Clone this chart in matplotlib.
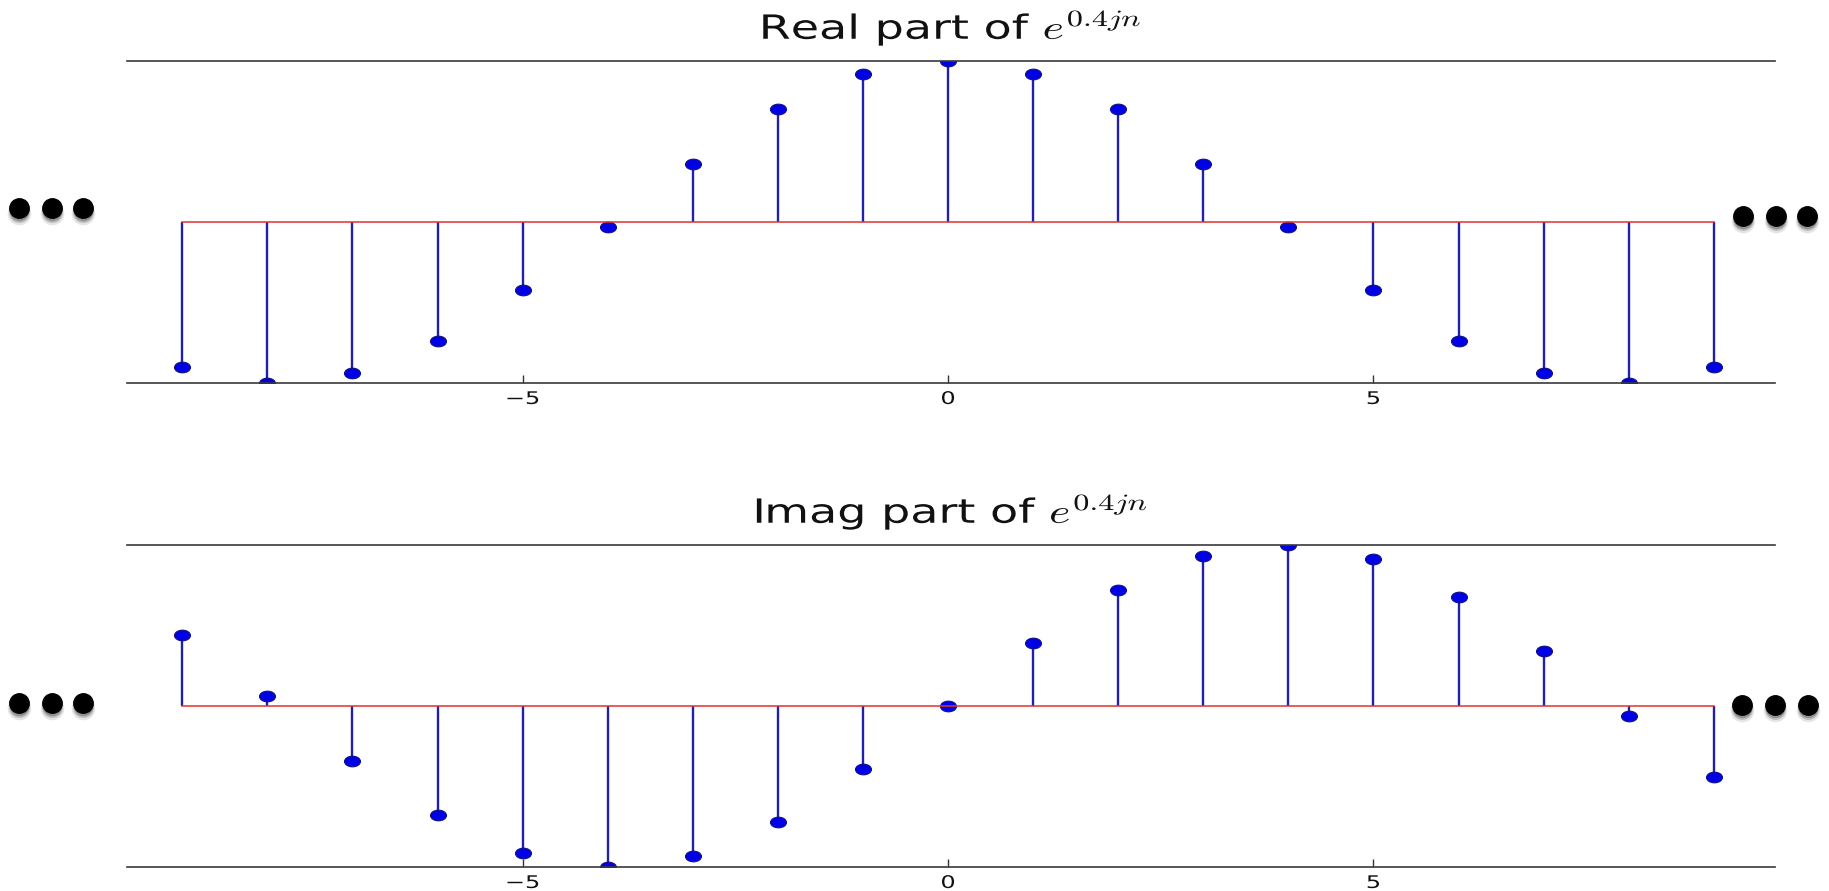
import matplotlib
matplotlib.use("Agg")
import matplotlib.pyplot as plt
from matplotlib.lines import Line2D
from matplotlib.path import Path
from matplotlib.transforms import Affine2D
from matplotlib.patheffects import AbstractPathEffect

# ---- data ----
n = list(range(-9, 10))
real_vals = [-0.90, -1.00, -0.94, -0.74, -0.42, -0.03, 0.36, 0.70, 0.92, 1.00,
             0.92, 0.70, 0.36, -0.03, -0.42, -0.74, -0.94, -1.00, -0.90]
imag_vals = [0.44, 0.06, -0.34, -0.68, -0.91, -1.00, -0.93, -0.72, -0.39, 0.00,
             0.39, 0.72, 0.93, 1.00, 0.91, 0.68, 0.34, -0.06, -0.44]
titles = ['Real part of $e^{0.4jn}$', 'Imag part of $e^{0.4jn}$']
xticks = [-5, 0, 5]
xtick_labels = ['\u22125', '0', '5']

plt.rcParams['mathtext.fontset'] = 'cm'
plt.rcParams['font.family'] = 'DejaVu Sans'

SX = 1.38  # horizontal stretch of the reference image


class HStretch(AbstractPathEffect):
    def __init__(self, sx):
        super().__init__()
        self.sx = sx

    def draw_path(self, renderer, gc, tpath, affine, rgbFace=None):
        ext = tpath.get_extents()
        cx = (ext.x0 + ext.x1) / 2.0
        t = Affine2D().translate(-cx, 0).scale(self.sx, 1.0).translate(cx, 0) + affine
        renderer.draw_path(gc, tpath, t, rgbFace)


# elliptical marker (stretched circle)
circ = Path.unit_circle()
ell = Path(circ.vertices * [1.0, 1.0 / 1.5], circ.codes)

W, H = 1829, 891
fig = plt.figure(figsize=(W / 100, H / 100), dpi=100)

axes_px = [(127, 1775, 61, 383), (127, 1775, 545, 867)]
series = [real_vals, imag_vals]

for (x0, x1, yt, yb), vals, title in zip(axes_px, series, titles):
    ax = fig.add_axes([x0 / W, 1 - yb / H, (x1 - x0) / W, (yb - yt) / H])
    ml, sl, bl = ax.stem(n, vals)
    plt.setp(sl, color='#2020a8', linewidth=1.7)
    plt.setp(ml, marker=ell, markersize=11.5, markerfacecolor='#0000e6',
             markeredgecolor='#10108a', markeredgewidth=0.8)
    plt.setp(bl, color='#e03232', linewidth=1.1)
    ax.set_xlim(-9.65, 9.72)
    ax.set_ylim(-1, 1)
    ax.set_yticks([])
    ax.set_xticks(xticks)
    ax.set_xticklabels(xtick_labels, fontsize=12.5)
    ax.tick_params(axis='x', direction='in', length=6, width=1, color='#333333',
                   pad=5, top=False, bottom=True)
    for s in ('left', 'right'):
        ax.spines[s].set_visible(False)
    for s in ('top', 'bottom'):
        ax.spines[s].set_color('#3a3a3a')
        ax.spines[s].set_linewidth(1.2)
    t = ax.set_title(title, fontsize=24, pad=16, color='#111111')
    t.set_path_effects([HStretch(SX)])
    for tk in ax.xaxis.get_major_ticks():
        tk.label1.set_path_effects([HStretch(SX)])
        tk.label1.set_color('#111111')

# "..." ellipsis dots left and right of each panel
dot_rows = [
    ([19, 52, 83], 208), ([1743, 1776, 1807], 216),
    ([19, 52, 83], 703), ([1742, 1775, 1808], 705),
]
for xs, y in dot_rows:
    fx = [x / W for x in xs]
    fy = [1 - y / H] * len(xs)
    for dy, ms, a in [(5, 17, 0.10), (4, 15, 0.18), (3, 14, 0.22)]:
        fy_sh = [1 - (y + dy) / H] * len(xs)
        fig.add_artist(Line2D(fx, fy_sh, transform=fig.transFigure, linestyle='none',
                              marker='o', markersize=ms, markerfacecolor='#000000',
                              markeredgecolor='none', alpha=a))
    fig.add_artist(Line2D(fx, fy, transform=fig.transFigure, linestyle='none',
                          marker='o', markersize=14, markerfacecolor='black',
                          markeredgecolor='black'))

fig.savefig('out.png', dpi=100)
